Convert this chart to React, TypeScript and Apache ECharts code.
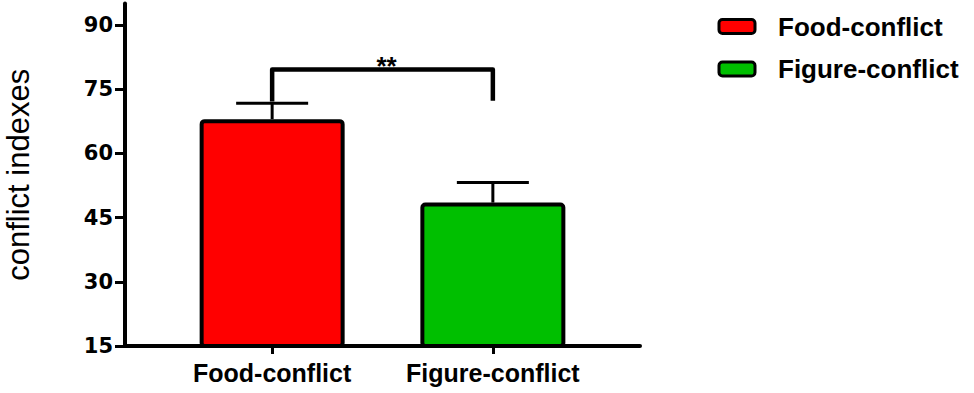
import React, { useEffect, useRef } from 'react';
import * as echarts from 'echarts';

const categories = ['Food-conflict', 'Figure-conflict'];
const xPositions = [2, 5];
const means = [68, 48.5];
const errors = [3.7, 4.7];
const barColors = ['#FF0000', '#00BF00'];
const yTicks = [15, 30, 45, 60, 75, 90];
const bracket = { from: 2, to: 5, top: 79.6, leftBottom: 72.1, rightBottom: 72.3 };
const sigLabel = '**';
const yTitle = 'conflict indexes';

const FONT = '"Liberation Sans", Arial, Helvetica, sans-serif';
const NUM_FONT = '"DejaVu Sans", "Liberation Sans", Arial, sans-serif';

export default function App() {
  const ref = useRef<HTMLDivElement>(null);

  useEffect(() => {
    if (!ref.current) return;
    const chart = echarts.init(ref.current, null, { renderer: 'svg' });

    const barSeries = categories.map((name, i) => ({
      name,
      type: 'bar',
      data: [[xPositions[i], means[i]]],
      barWidth: 145,
      barGap: '-100%',
      itemStyle: {
        color: barColors[i],
        borderColor: '#000',
        borderWidth: 4,
        borderRadius: 3,
      },
      z: 2,
    }));

    const option: any = {
      animation: false,
      textStyle: { fontFamily: FONT },
      grid: {
        left: 125,
        right: 334,
        top: 3.6,
        bottom: 47,
        containLabel: false,
        outerBoundsMode: 'none',
      },
      legend: {
        orient: 'vertical',
        left: 717.5,
        top: 13.5,
        padding: 0,
        itemWidth: 36,
        itemHeight: 14,
        itemGap: 16.5,
        icon: 'roundRect',
        data: categories,
        itemStyle: { borderColor: '#000', borderWidth: 3 },
        textStyle: {
          fontFamily: FONT,
          fontSize: 26,
          fontWeight: 'bold',
          color: '#000',
          lineHeight: 26,
          padding: [0, 0, 0, 18],
        },
      },
      xAxis: {
        type: 'value',
        min: 0,
        max: 7,
        splitLine: { show: false },
        axisLine: { show: true, lineStyle: { color: '#000', width: 4 } },
        axisTick: {
          show: true,
          customValues: xPositions,
          length: 8,
          lineStyle: { color: '#000', width: 3 },
        },
        axisLabel: {
          customValues: xPositions,
          formatter: (v: number) => {
            const idx = xPositions.indexOf(v);
            return idx >= 0 ? categories[idx] : '';
          },
          margin: 14,
          fontFamily: FONT,
          fontSize: 25,
          fontWeight: 'bold',
          color: '#000',
        },
      },
      yAxis: {
        type: 'value',
        min: 15,
        max: 95,
        splitLine: { show: false },
        axisLine: { show: true, lineStyle: { color: '#000', width: 4 } },
        axisTick: {
          show: true,
          customValues: yTicks,
          length: 10,
          lineStyle: { color: '#000', width: 3 },
        },
        axisLabel: {
          customValues: yTicks,
          margin: 12,
          fontFamily: NUM_FONT,
          fontSize: 21,
          fontWeight: 'bold',
          color: '#000',
        },
        name: yTitle,
        nameLocation: 'middle',
        nameGap: 95,
        nameTextStyle: {
          fontFamily: FONT,
          fontSize: 31,
          lineHeight: 24,
          color: '#000',
        },
      },
      series: [
        ...barSeries,
        {
          type: 'custom',
          name: 'error',
          data: xPositions.map((x, i) => [x, means[i], errors[i]]),
          encode: { x: 0, y: 1 },
          clip: false,
          z: 3,
          renderItem: (params: any, api: any) => {
            const x = api.value(0);
            const m = api.value(1);
            const e = api.value(2);
            const p0 = api.coord([x, m]);
            const p1 = api.coord([x, m + e]);
            const half = 36;
            return {
              type: 'group',
              children: [
                {
                  type: 'line',
                  shape: { x1: p0[0], y1: p0[1], x2: p1[0], y2: p1[1] },
                  style: { stroke: '#000', lineWidth: 3 },
                },
                {
                  type: 'line',
                  shape: { x1: p1[0] - half, y1: p1[1], x2: p1[0] + half, y2: p1[1] },
                  style: { stroke: '#000', lineWidth: 3 },
                },
              ],
            };
          },
        },
        {
          type: 'custom',
          name: 'bracket',
          data: [[bracket.from, bracket.to, bracket.top, bracket.leftBottom, bracket.rightBottom]],
          encode: { x: 0, y: 2 },
          clip: false,
          z: 4,
          renderItem: (params: any, api: any) => {
            const x1 = api.value(0);
            const x2 = api.value(1);
            const yt = api.value(2);
            const yl = api.value(3);
            const yr = api.value(4);
            const a = api.coord([x1, yl]);
            const b = api.coord([x1, yt]);
            const c = api.coord([x2, yt]);
            const d = api.coord([x2, yr]);
            const mid = api.coord([(x1 + x2) / 2, yt]);
            return {
              type: 'group',
              children: [
                {
                  type: 'polyline',
                  shape: { points: [a, b, c, d] },
                  style: { stroke: '#000', lineWidth: 4.5, fill: 'none', lineJoin: 'round' },
                },
                {
                  type: 'text',
                  x: mid[0] + 4,
                  y: mid[1] - 4,
                  style: {
                    text: sigLabel,
                    fontFamily: FONT,
                    fontSize: 26,
                    fontWeight: 'bold',
                    fill: '#000',
                    align: 'center',
                    verticalAlign: 'middle',
                  },
                },
              ],
            };
          },
        },
      ],
    };

    chart.setOption(option);
    return () => chart.dispose();
  }, []);

  return (
    <div
      ref={ref}
      style={{ position: 'fixed', left: 0, top: 0, width: 974, height: 393, background: '#fff' }}
    />
  );
}
